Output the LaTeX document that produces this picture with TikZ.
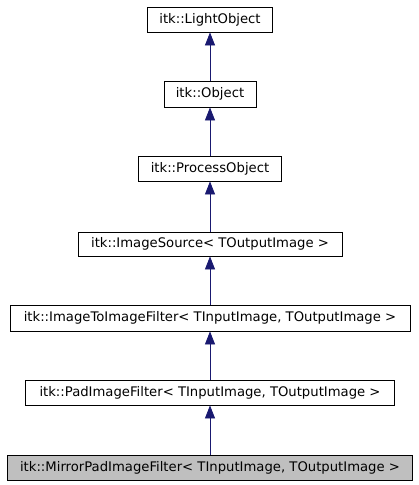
\documentclass[tikz,border=0pt]{standalone}
\usepackage{fontspec}
\setmainfont{DejaVu Sans}
\usetikzlibrary{arrows.meta}

\definecolor{edgeblue}{RGB}{25,25,112}
\definecolor{selgray}{RGB}{191,191,191}

\begin{document}
\begin{tikzpicture}[x=1pt,y=-1pt,
    classbox/.style={draw=black,fill=white,line width=0.8pt,inner sep=0pt,
      font=\fontsize{13.2}{15}\selectfont},
    inherit/.style={draw=edgeblue,line width=0.8pt,
      -{Triangle[width=10pt,length=13pt,fill=edgeblue]}}]
  \useasboundingbox (0,0) rectangle (419,485);

  % Class boxes, top to bottom
  \node[classbox,minimum width=125pt,minimum height=25pt] (light) at (210,19.5) {itk::LightObject};
  \node[classbox,minimum width=92pt,minimum height=26pt] (object) at (210,94) {itk::Object};
  \node[classbox,minimum width=143pt,minimum height=25pt] (process) at (210,168.5) {itk::ProcessObject};
  \node[classbox,minimum width=264pt,minimum height=24pt] (source) at (210,244) {itk::ImageSource< TOutputImage >};
  \node[classbox,minimum width=400pt,minimum height=26pt] (i2i) at (210,318) {itk::ImageToImageFilter< TInputImage, TOutputImage >};
  \node[classbox,minimum width=369pt,minimum height=25pt] (pad) at (210,392.5) {itk::PadImageFilter< TInputImage, TOutputImage >};
  \node[classbox,fill=selgray,minimum width=405pt,minimum height=25pt] (mirror) at (210,467.5) {itk::MirrorPadImageFilter< TInputImage, TOutputImage >};

  % Inheritance edges
  \draw[inherit] (object) -- (light);
  \draw[inherit] (process) -- (object);
  \draw[inherit] (source) -- (process);
  \draw[inherit] (i2i) -- (source);
  \draw[inherit] (pad) -- (i2i);
  \draw[inherit] (mirror) -- (pad);

\end{tikzpicture}
\end{document}
